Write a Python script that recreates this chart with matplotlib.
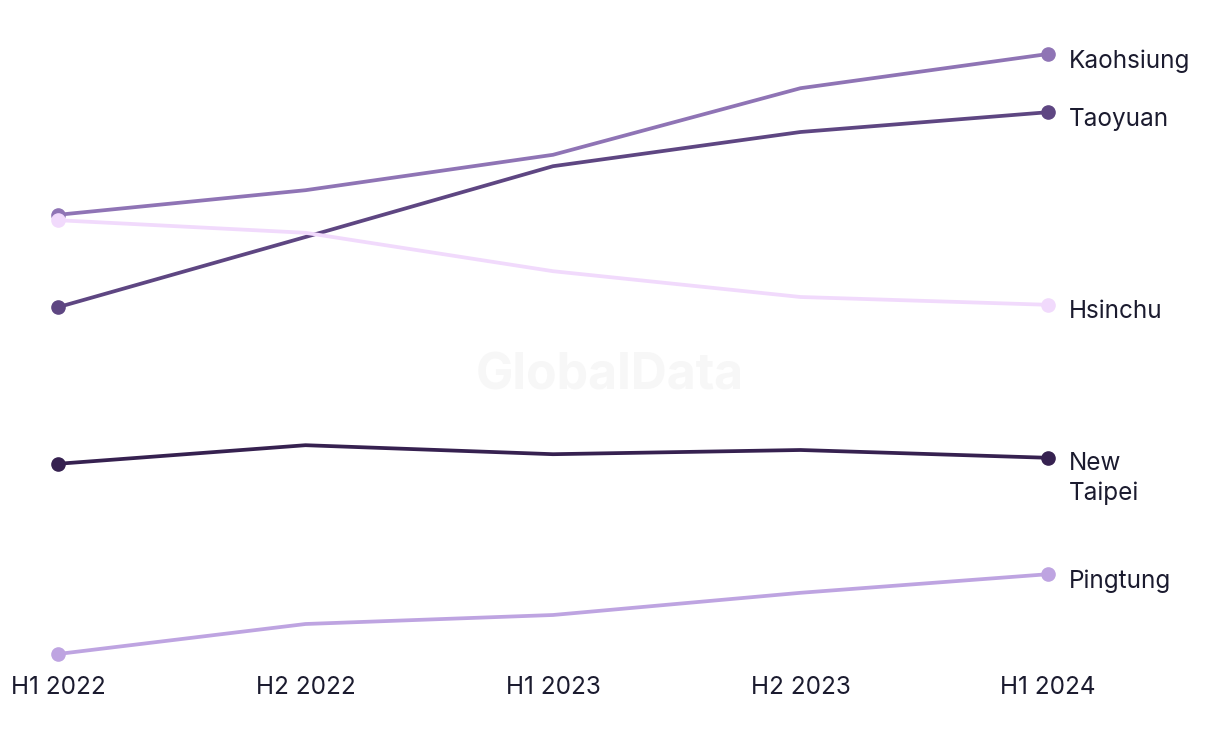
import matplotlib.pyplot as plt

# half-year periods on the x axis
periods = ["H1 2022", "H2 2022", "H1 2023", "H2 2023", "H1 2024"]

# values (relative index, no y scale shown)
kaohsiung = [73.2, 77.3, 83.2, 94.3, 100.0]
taoyuan = [57.8, 69.5, 81.3, 87.0, 90.3]
hsinchu = [72.3, 70.2, 63.8, 59.5, 58.2]
new_taipei = [31.7, 34.8, 33.3, 34.0, 32.7]
pingtung = [0.0, 5.0, 6.5, 10.2, 13.3]

series = [
    ("Kaohsiung", kaohsiung, "#8f74b5"),
    ("Taoyuan", taoyuan, "#5e4682"),
    ("Hsinchu", hsinchu, "#f1dafc"),
    ("New\nTaipei", new_taipei, "#362150"),
    ("Pingtung", pingtung, "#bea4e1"),
]

plt.rcParams['font.family'] = ['Inter', 'DejaVu Sans']
text_color = "#1b1b2f"

fig = plt.figure(figsize=(12.2, 7.44), dpi=100)
ax = fig.add_axes([58 / 1220, 90 / 744, (1048 - 58) / 1220, 600 / 744])

# watermark
fig.text(0.5, 0.494, "GlobalData", ha="center", va="center", fontsize=36,
         fontweight="bold", color="#f7f7f7", zorder=0)

x = list(range(len(periods)))
for name, vals, color in series:
    ax.plot(x, vals, color=color, linewidth=2.7, solid_capstyle="round", clip_on=False, zorder=2)
    ax.plot([x[0], x[-1]], [vals[0], vals[-1]], "o", color=color, markersize=9.5,
            clip_on=False, zorder=3)
    if "\n" in name:
        ax.annotate(name, xy=(x[-1], vals[-1]), xytext=(15, 4.5), textcoords="offset points",
                    ha="left", va="top", fontsize=17.5, color=text_color, linespacing=1.4)
    else:
        ax.annotate(name, xy=(x[-1], vals[-1]), xytext=(15, -5), textcoords="offset points",
                    ha="left", va="center", fontsize=17.5, color=text_color)

ax.set_xlim(0, 4)
ax.set_ylim(0, 100)
ax.set_xticks(x)
ax.set_xticklabels(periods, fontsize=17.5, color=text_color)
ax.tick_params(axis="x", length=0, pad=15.5)
ax.set_yticks([])
for spine in ax.spines.values():
    spine.set_visible(False)

fig.savefig("out.png", dpi=100)
